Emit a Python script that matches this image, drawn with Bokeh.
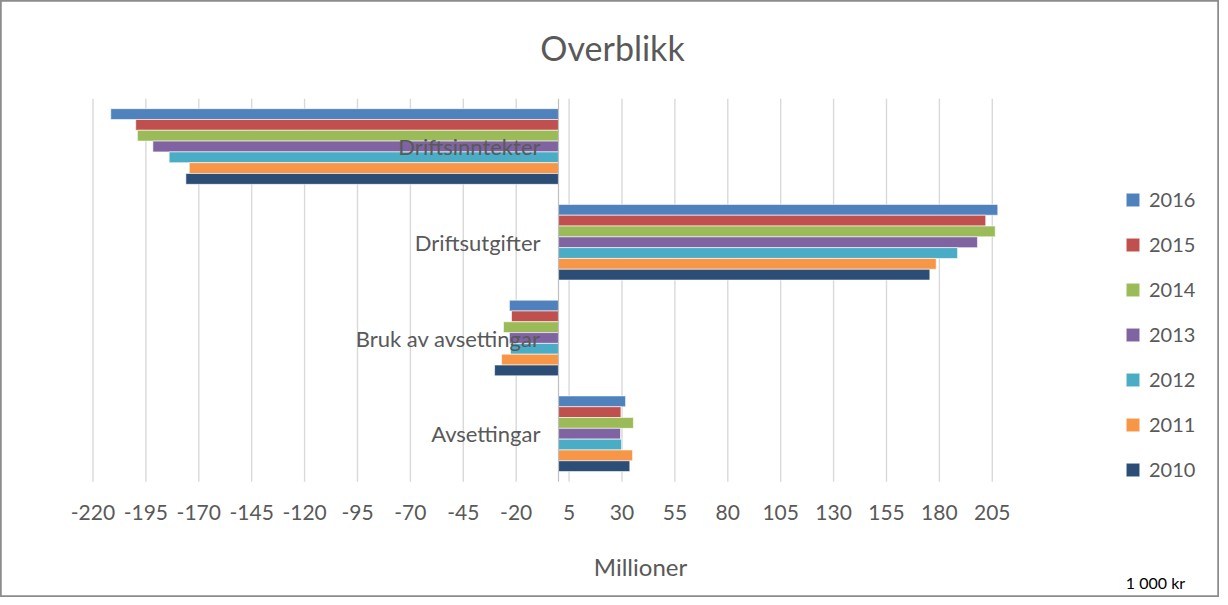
from bokeh.plotting import figure
from bokeh.models import ColumnDataSource, Range1d, Legend, LegendItem
from bokeh.transform import dodge
from bokeh.core.properties import value
from bokeh.embed import file_html
from bokeh.resources import INLINE

# ---------------- data ----------------
CATEGORIES = ["Driftsinntekter", "Driftsutgifter", "Bruk av avsettingar", "Avsettingar"]
YEARS = ["2016", "2015", "2014", "2013", "2012", "2011", "2010"]
V2016 = [-211.6, 207.6, -23.2, 31.7]
V2015 = [-199.8, 201.9, -22.2, 29.5]
V2014 = [-199.0, 206.4, -26.0, 35.4]
V2013 = [-191.7, 198.0, -23.2, 29.3]
V2012 = [-184.0, 188.6, -22.7, 29.8]
V2011 = [-174.5, 178.5, -26.9, 35.0]
V2010 = [-176.1, 175.5, -30.2, 33.7]
X_TICKS = [-220, -195, -170, -145, -120, -95, -70, -45, -20, 5, 30, 55, 80, 105, 130, 155, 180, 205]
COLORS = ["#4f81bd", "#c0504d", "#9bbb59", "#8064a2", "#4bacc6", "#f79646", "#2c4d75"]
TITLE = "Overblikk"
X_LABEL = "Millioner"
UNIT_NOTE = "1 000 kr"

FONT = "Lato"
TXT = "#595959"

# ---------------- layout (canvas pixels) ----------------
W, H = 1219, 597
ZERO_PX = 558.0        # canvas x of value 0
PX_PER_UNIT = 2.116    # horizontal scale
TOP_CENTER_PX = 146.0  # canvas y of first category centre
BAND_PX = 95.75        # vertical band per category
n = len(CATEGORIES)


def px_to_x(cx):
    return (cx - ZERO_PX) / PX_PER_UNIT


def px_to_y(cy):
    return (n - 1) + (TOP_CENTER_PX - cy) / BAND_PX


series = [V2016, V2015, V2014, V2013, V2012, V2011, V2010]
pos = [n - 1 - i for i in range(n)]
data = {"cat": CATEGORIES, "pos": pos}
for y, vals in zip(YEARS, series):
    data["y" + y] = vals
source = ColumnDataSource(data)

p = figure(width=W, height=H,
           x_range=Range1d(px_to_x(0), px_to_x(W)),
           y_range=Range1d(px_to_y(H), px_to_y(0)),
           output_backend="svg", toolbar_location=None, title=None,
           x_axis_location=None, y_axis_location=None,
           min_border=0, min_border_left=0, min_border_right=0,
           min_border_top=0, min_border_bottom=0)
p.grid.visible = False
p.outline_line_color = "#8c8c8c"
p.outline_line_width = 2.5
p.background_fill_color = "white"
p.border_fill_color = "white"

# vertical gridlines over the plot band
y_lo, y_hi = -0.5, n - 0.5
grid = ColumnDataSource({"x": X_TICKS, "y0": [y_lo] * len(X_TICKS), "y1": [y_hi] * len(X_TICKS)})
p.segment(x0="x", x1="x", y0="y0", y1="y1", source=grid, line_color="#d9d9d9", line_width=1.4)

BAR_H = 0.1129
items = []
for i, y in enumerate(YEARS):
    off = (3 - i) * BAR_H
    r = p.hbar(y=dodge("pos", off), left=0, right="y" + y, height=BAR_H,
               source=source, fill_color=COLORS[i], line_color="white", line_width=0.6)
    items.append(LegendItem(label=y, renderers=[r]))

# vertical (category) axis line at zero
p.segment(x0=[0], x1=[0], y0=[y_lo], y1=[y_hi], line_color="#bfbfbf", line_width=1.2)

# category labels
p.text(x=0, y="pos", text="cat", source=source, x_offset=-18, text_align="right",
       text_baseline="middle", text_font=value(FONT), text_font_size="22px", text_color=TXT)

# x tick labels
ticks = ColumnDataSource({"x": X_TICKS, "lab": [str(t) for t in X_TICKS],
                          "y": [px_to_y(512)] * len(X_TICKS)})
p.text(x="x", y="y", text="lab", source=ticks, text_align="center", text_baseline="middle",
       text_font=value(FONT), text_font_size="21px", text_color=TXT)

# title, axis title, unit note
p.text(x=[px_to_x(612)], y=[px_to_y(47)], text=[TITLE], text_align="center",
       text_baseline="middle", text_font=value(FONT), text_font_size="34px", text_color=TXT)
p.text(x=[px_to_x(640)], y=[px_to_y(566)], text=[X_LABEL], text_align="center",
       text_baseline="middle", text_font=value(FONT), text_font_size="24px", text_color=TXT)
p.text(x=[px_to_x(1155)], y=[px_to_y(582)], text=[UNIT_NOTE], text_align="center",
       text_baseline="middle", text_font=value(FONT), text_font_size="16px", text_color="#000000")

legend = Legend(items=items, location=(1124, 116), padding=0, margin=0, spacing=21,
                glyph_width=17, glyph_height=17, label_standoff=8,
                label_text_font=FONT, label_text_font_size="20px", label_text_color=TXT,
                border_line_color=None, background_fill_alpha=0)
p.add_layout(legend, "center")

open("out.html", "w").write(file_html(p, INLINE))
